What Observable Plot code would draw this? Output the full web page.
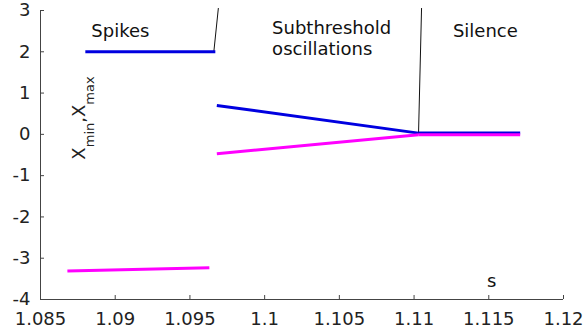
<!DOCTYPE html>
<html><head><meta charset="utf-8">
<script src="https://cdn.jsdelivr.net/npm/d3@7"></script>
<script src="https://cdn.jsdelivr.net/npm/@observablehq/plot@0.6"></script>
<style>body{margin:0;background:#fff;} svg{display:block}</style>
</head><body><div id="chart"></div>
<script>
// Axis ticks
const xTicks = [1.085, 1.09, 1.095, 1.1, 1.105, 1.11, 1.115, 1.12];
const yTicks = [-4, -3, -2, -1, 0, 1, 2, 3];

// Spiking regime
const spikesMaxX = [1.0880, 1.0967];
const spikesMaxY = [2.0, 2.0];
const spikesMinX = [1.0868, 1.0963];
const spikesMinY = [-3.31, -3.23];
// Subthreshold oscillations
const subX = [1.0968, 1.1103];
const subMaxY = [0.70, 0.03];
const subMinY = [-0.47, -0.01];
// Silence
const silX = [1.1103, 1.1171];
const silMaxY = [0.03, 0.03];
const silMinY = [-0.01, -0.01];

// Region boundaries
const boundary1X = [1.0969, 1.0966];
const boundary1Y = [3.05, 2.0];
const boundary2X = [1.1105, 1.1103];
const boundary2Y = [3.05, 0.03];

// Region labels
const regionLabels = ["Spikes", "Subthreshold\noscillations", "Silence"];
const regionLabelX = [1.0884, 1.1005, 1.1126];
const regionLabelY = [2.73, 2.81, 2.73];

const xLabel = "s";
const xLabelX = 1.1152;
const xLabelY = -3.56;

function seg(id, kind, xs, ys) { return xs.map((x, i) => ({id, kind, x, y: ys[i]})); }
const lines = [
  ...seg("spmax", "max", spikesMaxX, spikesMaxY),
  ...seg("submax", "max", subX, subMaxY),
  ...seg("silmax", "max", silX, silMaxY),
  ...seg("spmin", "min", spikesMinX, spikesMinY),
  ...seg("submin", "min", subX, subMinY),
  ...seg("silmin", "min", silX, silMinY)
];
const bounds = [...seg("b1", "b", boundary1X, boundary1Y), ...seg("b2", "b", boundary2X, boundary2Y)];
const labels = regionLabels.map((t, i) => ({t, x: regionLabelX[i], y: regionLabelY[i]}));

const FONT = "DejaVu Sans";
const axisColor = "#444";

const plot = Plot.plot({
  width: 587, height: 330,
  marginLeft: 40, marginRight: 24, marginTop: 10, marginBottom: 31,
  style: {fontFamily: FONT, fontSize: "18px", color: "#222", background: "#fff"},
  x: {domain: [1.085, 1.12]},
  y: {domain: [-4, 3]},
  marks: [
    Plot.ruleY([-4], {stroke: axisColor}),
    Plot.ruleX([1.085], {stroke: axisColor}),
    Plot.axisX(xTicks, {tickSize: -4, tickPadding: 17, tickFormat: d => String(d), stroke: axisColor, fill: "#222", label: null, fontSize: 18}),
    Plot.axisY(yTicks, {tickSize: -4, tickPadding: 14, tickFormat: d => String(d), stroke: axisColor, fill: "#222", label: null, fontSize: 18}),
    Plot.line(bounds, {x: "x", y: "y", z: "id", stroke: "#111", strokeWidth: 1}),
    Plot.line(lines, {x: "x", y: "y", z: "id", stroke: d => d.kind === "max" ? "#0000e0" : "#ff00ff", strokeWidth: 3, strokeLinecap: "butt"}),
    Plot.text(labels, {x: "x", y: "y", text: "t", textAnchor: "start", lineAnchor: "top", lineHeight: 1.2, fontSize: 18, fill: "#111"}),
    Plot.text([xLabel], {x: () => xLabelX, y: () => xLabelY, text: d => d, lineAnchor: "middle", fontSize: 18, fill: "#111"})
  ]
});

// Rotated y-axis label with subscripts: X_min, X_max
const svg = d3.select(plot);
const yl = svg.append("text")
  .attr("transform", "translate(85,118) rotate(-90)")
  .attr("text-anchor", "middle")
  .attr("font-family", FONT)
  .attr("font-size", 18)
  .attr("fill", "#222");
yl.append("tspan").text("X");
yl.append("tspan").attr("font-size", 13).attr("dy", 9).text("min");
yl.append("tspan").attr("font-size", 18).attr("dy", -9).text(",X");
yl.append("tspan").attr("font-size", 13).attr("dy", 9).text("max");

document.getElementById("chart").appendChild(plot);
</script>
</body></html>
